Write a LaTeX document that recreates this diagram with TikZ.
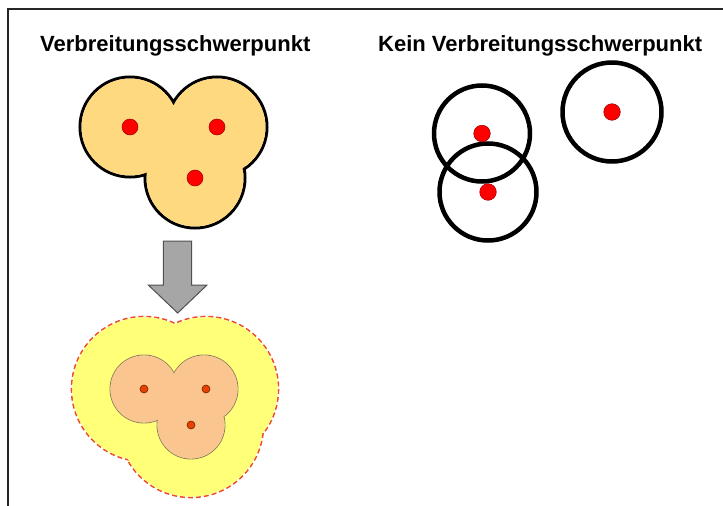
\documentclass[tikz,border=0pt]{standalone}
\usepackage{fontspec}
\setmainfont{Liberation Sans}
\begin{document}
\begin{tikzpicture}[x=1pt,y=-1pt,
  titletext/.style={font=\fontsize{22}{24}\selectfont\bfseries, inner sep=0pt, anchor=base west},
  reddot/.style={fill=red, draw=red!60!black, line width=0.5pt},
  smalldot/.style={fill=dotorange, draw=dotorange!50!black, line width=0.6pt},
  blackring/.style={draw=black, line width=4.5pt},
  blockarrow/.style={fill=arrowgray, draw=arrowedge, line width=1pt, line join=miter}]
\definecolor{blobfill}{HTML}{FFD980}
\definecolor{bufferyellow}{HTML}{FFFF78}
\definecolor{dashred}{HTML}{F04A28}
\definecolor{innerorange}{HTML}{FAC58E}
\definecolor{inneredge}{HTML}{8A7A62}
\definecolor{dotorange}{HTML}{E84000}
\definecolor{arrowgray}{HTML}{A6A6A6}
\definecolor{arrowedge}{HTML}{505050}
\useasboundingbox (0,0) rectangle (723,506);
\fill[white] (0,0) rectangle (723,506);
% frame
\draw[line width=2pt, black!85] (8,506) -- (8,9) -- (723,9);
% titles
\node[titletext] (t1) at (40,51.5) {Verbreitungsschwerpunkt};
\node[titletext] (t2) at (378,51.5) {Kein Verbreitungsschwerpunkt};
% top-left blob
\coordinate (a1) at (130,127);
\coordinate (a2) at (217,127);
\coordinate (a3) at (195,178);
\draw[black, line width=3pt] (a1) circle (50) (a2) circle (50) (a3) circle (50);
\fill[blobfill] (a1) circle (48.5) (a2) circle (48.5) (a3) circle (48.5);
\foreach \p in {a1,a2,a3} \draw[reddot] (\p) circle (8);
% arrow
\draw[blockarrow] (163.3,241) -- (191.7,241) -- (191.7,285) -- (207,285) -- (177.7,313) -- (148.3,285) -- (163.3,285) -- cycle;
% bottom buffer
\coordinate (b1) at (144,389);
\coordinate (b2) at (206,389);
\coordinate (b3) at (191,425);
\draw[dashred, line width=1.6pt, dash pattern=on 5pt off 3pt] (b1) circle (72.5) (b2) circle (72.5) (b3) circle (72.5);
\fill[bufferyellow] (b1) circle (71.7) (b2) circle (71.7) (b3) circle (71.7);
\coordinate (c1) at (144,389);
\coordinate (c2) at (204,389);
\coordinate (c3) at (191,425);
\draw[inneredge, line width=0.9pt] (c1) circle (34) (c2) circle (34) (c3) circle (34);
\fill[innerorange] (c1) circle (33.55) (c2) circle (33.55) (c3) circle (33.55);
\foreach \p in {b1,b2,b3} \draw[smalldot] (\p) circle (4);
% right rings
\coordinate (d1) at (482,133.5);
\coordinate (d2) at (488,192);
\coordinate (d3) at (612,112);
\draw[blackring] (d1) circle (48) (d2) circle (48.5) (d3) circle (49.5);
\foreach \p in {d1,d2,d3} \draw[reddot] (\p) circle (8.3);
\end{tikzpicture}
\end{document}
